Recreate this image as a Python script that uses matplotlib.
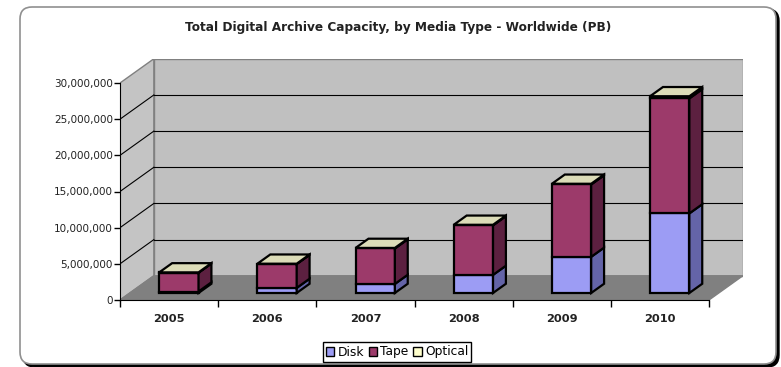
import matplotlib.pyplot as plt
from matplotlib.patches import FancyBboxPatch, Patch

years = ["2005", "2006", "2007", "2008", "2009", "2010"]
disk = [200000, 700000, 1250000, 2500000, 5000000, 11000000]
tape = [2600000, 3300000, 4900000, 6850000, 10000000, 15900000]
optical = [50000, 50000, 80000, 80000, 100000, 300000]

series = [("Disk", disk, "#9c9cf4", "#6464a8"),
          ("Tape", tape, "#9c3a6a", "#5c2040"),
          ("Optical", optical, "#ffffcc", "#c8c8a0")]
top_color = "#dcdcb8"

# oblique depth of the plot box, in data units
DX = 0.345
DY = 3.35e6
YMAX = 30e6
n = len(years)

W, H = 781, 367
fig = plt.figure(figsize=(W / 100, H / 100), dpi=100)

# rounded chart frame with a dark drop shadow
shadow = FancyBboxPatch((23, 0), 756, 358, boxstyle="round,pad=0,rounding_size=12",
                        transform=None, facecolor="black", edgecolor="black", zorder=-2)
frame = FancyBboxPatch((20, 3), 756, 357, boxstyle="round,pad=0,rounding_size=12",
                       transform=None, facecolor="white", edgecolor="#909090", lw=1.2,
                       zorder=-1)
fig.patches.extend([shadow, frame])

left, bottom, fw, fh = 120, 67, 589, 217
ax = fig.add_axes([left / W, bottom / H,
                   fw * (n + DX) / n / W, fh * (YMAX + DY) / YMAX / H])
ax.set_xlim(0, n + DX)
ax.set_ylim(0, YMAX + DY)
ax.patch.set_visible(False)

# walls and floor
ax.fill([0, DX, DX, 0], [0, DY, YMAX + DY, YMAX], color="#c4c4c4", ec="#808080", lw=1, zorder=0.5)
ax.fill([DX, n + DX, n + DX, DX], [DY, DY, YMAX + DY, YMAX + DY], color="#c0c0c0",
        ec="#808080", lw=1, zorder=0.5)
ax.fill([0, n, n + DX, DX], [0, 0, DY, DY], color="#808080", ec="#808080", lw=1, zorder=0.6)

ticks = list(range(0, int(YMAX) + 1, 5000000))
for v in ticks[1:-1]:
    ax.plot([0, DX], [v, v + DY], color="black", lw=0.8, zorder=0.7)
    ax.plot([DX, n + DX], [v + DY, v + DY], color="black", lw=0.8, zorder=0.7)

# stacked 3D bars
bw = 0.40
f0, fd = 0.29, 0.38
for i in range(n):
    x0 = i + 0.5 - bw / 2 + f0 * DX
    x1 = x0 + bw
    base = f0 * DY
    sx, sy = fd * DX, fd * DY
    for k, (name, vals, front, side) in enumerate(series):
        h = vals[i]
        ax.fill([x0, x1, x1, x0], [base, base, base + h, base + h],
                color=front, ec="black", lw=1.6, zorder=3, joinstyle="miter")
        ax.fill([x1, x1 + sx, x1 + sx, x1], [base, base + sy, base + h + sy, base + h],
                color=side, ec="black", lw=1.6, zorder=3, joinstyle="miter")
        base += h
    ax.fill([x0, x1, x1 + sx, x0 + sx], [base, base, base + sy, base + sy],
            color=top_color, ec="black", lw=1.6, zorder=3, joinstyle="miter")

# axes
for s in ["top", "right"]:
    ax.spines[s].set_visible(False)
ax.spines["left"].set_bounds(0, YMAX)
ax.spines["bottom"].set_bounds(0, n)
ax.spines["left"].set_zorder(4)
ax.spines["bottom"].set_zorder(4)
ax.set_yticks(ticks)
ax.set_yticklabels([f"{v:,}" for v in ticks], fontsize=7.5, color="#222222")
ax.tick_params(axis="y", length=4, width=1, pad=1)
ax.set_xticks([i + 0.5 for i in range(n)])
ax.set_xticklabels(years, fontsize=8.2, fontweight="bold", color="#222222")
ax.set_xticks(range(n + 1), minor=True)
ax.tick_params(axis="x", which="major", length=0, pad=10)
ax.tick_params(axis="x", which="minor", length=5, width=1)

fig.text(398 / W, 1 - 27 / H, "Total Digital Archive Capacity, by Media Type - Worldwide (PB)",
         ha="center", va="center", fontsize=8.7, fontweight="bold", color="#222222")

handles = [Patch(facecolor=front, edgecolor="black", lw=1, label=name)
           for name, vals, front, side in series]
fig.legend(handles=handles, loc="center", bbox_to_anchor=(397 / W, 1 - 352 / H), ncol=3,
           fontsize=8.8, frameon=True, fancybox=False, edgecolor="black", framealpha=1,
           handlelength=0.7, handleheight=0.7, handletextpad=0.25, columnspacing=0.4,
           borderpad=0.25, borderaxespad=0)

fig.savefig("out.png", dpi=100)
